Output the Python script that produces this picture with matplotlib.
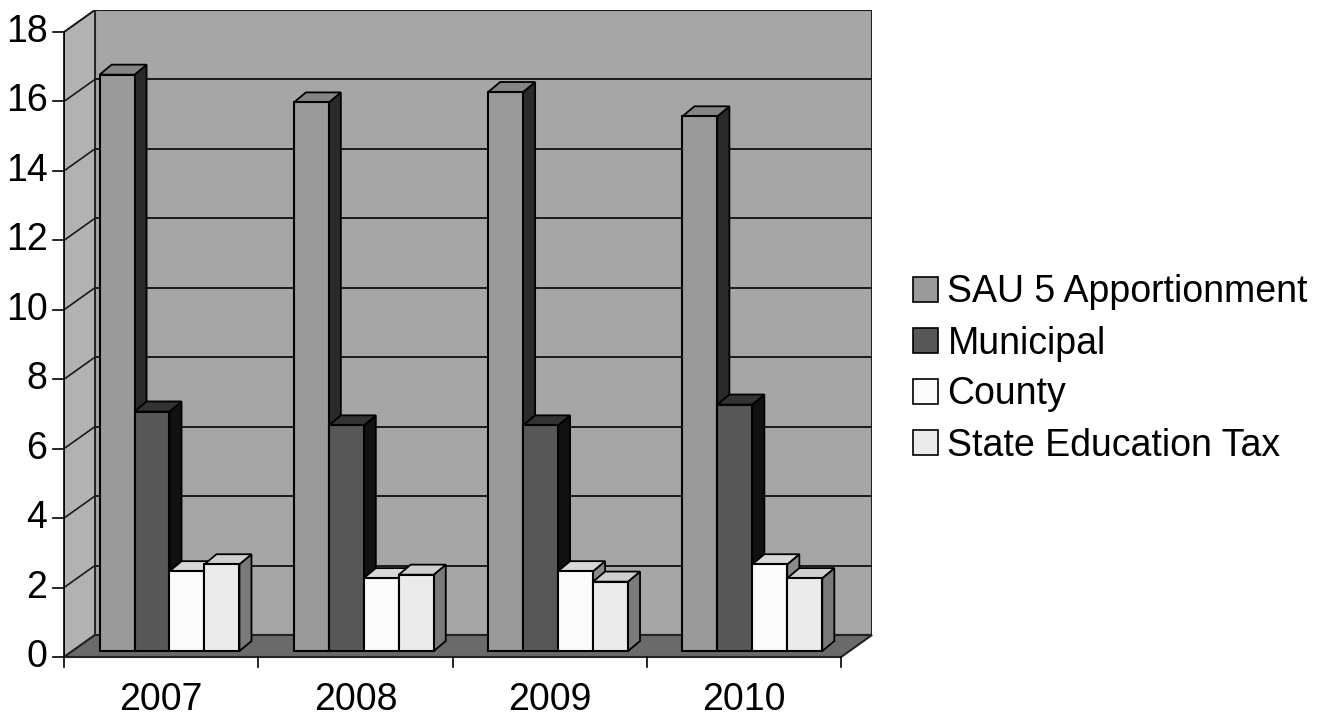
import matplotlib.pyplot as plt
from matplotlib.patches import Polygon, Patch
import numpy as np

plt.rcParams['font.family'] = ['Liberation Sans', 'DejaVu Sans']

# data
years = ['2007', '2008', '2009', '2010']
series = ['SAU 5 Apportionment', 'Municipal', 'County', 'State Education Tax']
sau = [16.6, 15.8, 16.1, 15.4]
municipal = [6.9, 6.5, 6.5, 7.1]
county = [2.3, 2.1, 2.3, 2.5]
state_tax = [2.5, 2.2, 2.0, 2.1]
yticks = list(range(0, 19, 2))

values = [sau, municipal, county, state_tax]
front_col = ['#9a9a9a', '#575757', '#fbfbfb', '#ebebeb']
side_col = ['#2a2a2a', '#111111', '#8a8a8a', '#7a7a7a']
top_col = ['#858585', '#333333', '#d8d8d8', '#cfcfcf']

# fake 3d geometry (in data units)
DX, DY = 0.159, 0.634        # depth of the floor / walls
bx, by = 0.043, 0.17         # where the bars stand in depth
sx, sy = 0.062, 0.29         # depth of each bar
w = 0.18
ymax = 18
fs = 27

fig = plt.figure(figsize=(13.3, 7.18), dpi=100)
ax = fig.add_axes([64 / 1330, 61 / 718, 808 / 1330, 647 / 718])
ax.set_xlim(-0.5, 3.5 + DX)
ax.set_ylim(0, ymax + DY)
ax.axis('off')

# walls and floor
ax.add_patch(Polygon([(-0.5 + DX, DY), (3.5 + DX, DY), (3.5 + DX, ymax + DY), (-0.5 + DX, ymax + DY)],
                     closed=True, fc='#a6a6a6', ec='#222222', lw=1.5, zorder=1))
ax.add_patch(Polygon([(-0.5, 0), (-0.5 + DX, DY), (-0.5 + DX, ymax + DY), (-0.5, ymax)],
                     closed=True, fc='#b2b2b2', ec='#222222', lw=1.2, zorder=1))
ax.add_patch(Polygon([(-0.5, 0), (3.5, 0), (3.5 + DX, DY), (-0.5 + DX, DY)],
                     closed=True, fc='#6a6a6a', ec='#222222', lw=1.5, zorder=2, clip_on=False))

# gridlines on the walls
for v in yticks[1:]:
    ax.plot([-0.5 + DX, 3.5 + DX], [v + DY, v + DY], color='#1a1a1a', lw=1.4, zorder=1.5)
    ax.plot([-0.5, -0.5 + DX], [v, v + DY], color='#1a1a1a', lw=1.2, zorder=1.5)

# bars
x = np.arange(len(years))
for k, vals in enumerate(values):
    left = x - 2 * w + k * w + bx
    z = 3 + k
    ax.bar(left, vals, width=w, bottom=by, align='edge', color=front_col[k],
           edgecolor='black', linewidth=1.5, zorder=z + 0.2)
    for xl, v in zip(left, vals):
        top = by + v
        xr = xl + w
        ax.add_patch(Polygon([(xr, by), (xr + sx, by + sy), (xr + sx, top + sy), (xr, top)],
                             closed=True, fc=side_col[k], ec='black', lw=1.3, zorder=z))
        ax.add_patch(Polygon([(xl, top), (xr, top), (xr + sx, top + sy), (xl + sx, top + sy)],
                             closed=True, fc=top_col[k], ec='black', lw=1.3, zorder=z + 0.1))

# y axis ticks and labels on the front edge
for v in yticks:
    ax.plot([-0.555, -0.5], [v, v], color='black', lw=1.2, clip_on=False, zorder=6)
    ax.text(-0.585, v, str(v), ha='right', va='center', fontsize=fs, zorder=6, clip_on=False)
ax.plot([-0.5, -0.5], [0, ymax], color='black', lw=1.2, clip_on=False, zorder=6)

# x axis ticks and labels
for b in np.arange(-0.5, 4.0, 1.0):
    ax.plot([b, b], [0, -0.3], color='black', lw=1.2, clip_on=False, zorder=6)
for xi, yr in zip(x, years):
    ax.text(xi, -1.25, yr, ha='center', va='center', fontsize=fs, clip_on=False)

handles = [Patch(facecolor=front_col[k], edgecolor='black', linewidth=1.2) for k in range(4)]
fig.legend(handles, series, loc='center left', bbox_to_anchor=(913 / 1330, 1 - 369 / 718),
           frameon=False, fontsize=fs, handlelength=0.66, handleheight=0.66,
           handletextpad=0.26, labelspacing=0.4, borderaxespad=0, borderpad=0)

fig.savefig('out.png', dpi=100, facecolor='white')
